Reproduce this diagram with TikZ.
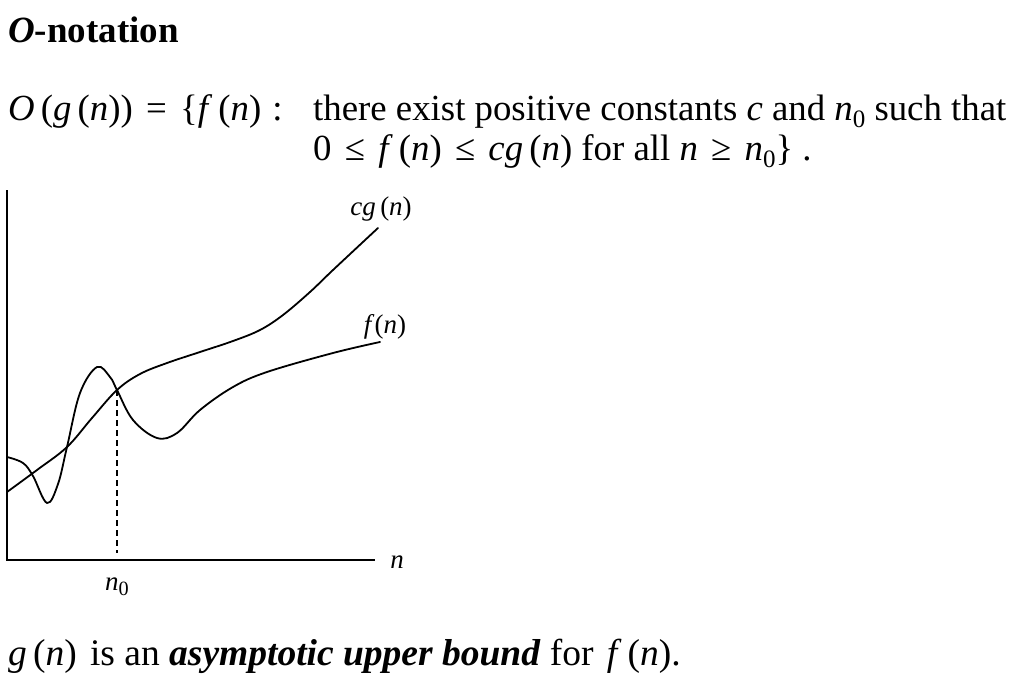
\documentclass[tikz,border=0pt]{standalone}
\usepackage{fontspec}
\usepackage{graphicx}
\setmainfont{Liberation Serif}
\newcommand{\iv}[1]{\textit{#1}}
\newcommand{\subz}{\raisebox{-0.2em}{\scalebox{0.68}{0}}}
\newcommand{\rs}{\hspace{0.3em}}
\newcommand{\rel}[1]{\hspace{0.36em}#1\hspace{0.36em}}
\tikzset{
  curve/.style={line width=1.8pt, line join=round, line cap=round},
  axis/.style={line width=1.8pt},
  guide/.style={line width=1.6pt, dash pattern=on 6pt off 4pt},
  body/.style={font=\fontsize{36.8}{40}\selectfont, inner sep=0pt, anchor=base west},
  lab/.style={font=\fontsize{27}{30}\selectfont, inner sep=0pt}
}
\begin{document}
\begin{tikzpicture}[x=1pt, y=-1pt]
\useasboundingbox (0,0) rectangle (1035,677);
% texts
\node[body, font=\fontsize{37}{40}\selectfont\bfseries] (head) at (8,42) {\iv{O}-notation};
\node[body] (lhs) at (8,120) {\iv{O}\,(\iv{g}\,(\iv{n}))\rel{=}\{\iv{f}\,(\iv{n})\rs:};
\node[body] (l1) at (313,120) {there exist positive constants \iv{c} and \iv{n}\subz{} such that};
\node[body] (l2) at (313,160) {0\rel{≤}\iv{f}\,(\iv{n})\rel{≤}\iv{cg}\,(\iv{n}) for all \iv{n}\rel{≥}\iv{n}\subz\}\hspace{0.25em}.};
\node[body, font=\fontsize{37.5}{40}\selectfont] (foot) at (8,665) {\iv{g}\,(\iv{n})\hspace{0.1em} is an \textbf{\textit{asymptotic upper bound}} for \hspace{0.1em}\iv{f}\,(\iv{n}).};
% axes
\coordinate (O) at (7,560);
\coordinate (ytop) at (7,190);
\coordinate (xend) at (375,560);
\draw[axis] (ytop) -- (O) -- (xend);
\node[lab] (nlab) at (397,562) {\iv{n}};
% curves
\coordinate (x0) at (117,390);
\coordinate (x0b) at (117,553);
\draw[curve] plot[smooth, tension=0.6] coordinates {(7,492) (37,470) (67,447) (92,418) (117,390) (140,374) (167,363) (200,352) (233,341) (260,330) (283,315) (310,292) (333,270) (378,228)};
\draw[curve] plot[smooth, tension=0.6] coordinates {(7,457) (23,463) (33,476) (47,503) (58,484) (67,447) (80,393) (97,367) (110,377) (117,390) (133,420) (157,438) (177,433) (200,410) (233,387) (267,372) (333,353) (380,342)};
\draw[guide] (x0) -- (x0b);
\node[lab] (n0lab) at (117,587) {\iv{n}\raisebox{-0.2em}{\scalebox{0.75}{0}}};
\node[lab] (cglab) at (381,209) {\iv{cg}\,(\iv{n})};
\node[lab] (flab) at (385,327) {\iv{f}(\iv{n})};
\end{tikzpicture}
\end{document}
